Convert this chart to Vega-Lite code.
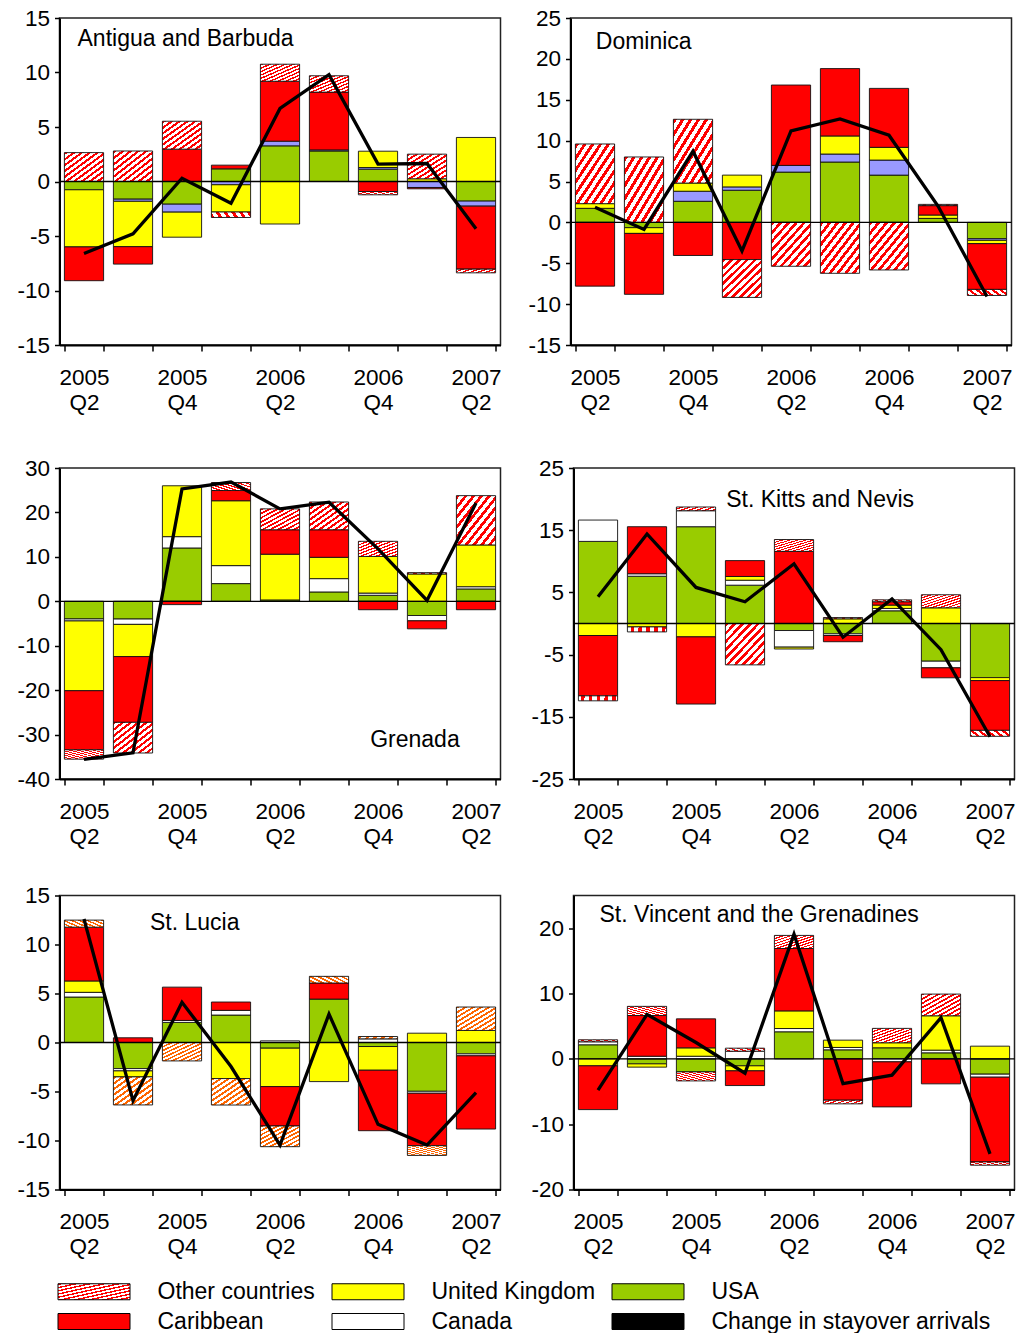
{
 "$schema": "https://vega.github.io/schema/vega-lite/v6.json",
 "padding": {"left": 15.5, "top": 6, "right": 4, "bottom": 0},
 "background": "white",
 "data": {"values": [
  {"country":"Antigua and Barbuda","quarter":"2005 Q2","USA":-0.76,"Canada":0,"United Kingdom":-5.24,"Caribbean":-3.1,"Other countries":2.65,"Change in stayover arrivals":-6.6},
  {"country":"Antigua and Barbuda","quarter":"2005 Q3","USA":-1.62,"Canada":-0.2,"United Kingdom":-4.16,"Caribbean":-1.6,"Other countries":2.8,"Change in stayover arrivals":-4.8},
  {"country":"Antigua and Barbuda","quarter":"2005 Q4","USA":-2.08,"Canada":-0.73,"United Kingdom":-2.3,"Caribbean":2.97,"Other countries":2.56,"Change in stayover arrivals":0.3},
  {"country":"Antigua and Barbuda","quarter":"2006 Q1","USA":1.16,"Canada":-0.3,"United Kingdom":-2.5,"Caribbean":0.34,"Other countries":-0.5,"Change in stayover arrivals":-2.0},
  {"country":"Antigua and Barbuda","quarter":"2006 Q2","USA":3.27,"Canada":0.43,"United Kingdom":-3.9,"Caribbean":5.5,"Other countries":1.56,"Change in stayover arrivals":6.7},
  {"country":"Antigua and Barbuda","quarter":"2006 Q3","USA":2.8,"Canada":0.1,"United Kingdom":0,"Caribbean":5.3,"Other countries":1.5,"Change in stayover arrivals":9.8},
  {"country":"Antigua and Barbuda","quarter":"2006 Q4","USA":1.13,"Canada":0.15,"United Kingdom":1.5,"Caribbean":-0.92,"Other countries":-0.3,"Change in stayover arrivals":1.6},
  {"country":"Antigua and Barbuda","quarter":"2007 Q1","USA":0,"Canada":-0.55,"United Kingdom":0.25,"Caribbean":-0.12,"Other countries":2.26,"Change in stayover arrivals":1.65},
  {"country":"Antigua and Barbuda","quarter":"2007 Q2","USA":-1.8,"Canada":-0.46,"United Kingdom":4.04,"Caribbean":-5.78,"Other countries":-0.34,"Change in stayover arrivals":-4.34},
  {"country":"Dominica","quarter":"2005 Q2","USA":1.72,"Canada":0,"United Kingdom":0.57,"Caribbean":-7.8,"Other countries":7.3,"Change in stayover arrivals":1.85},
  {"country":"Dominica","quarter":"2005 Q3","USA":-0.65,"Canada":0,"United Kingdom":-0.7,"Caribbean":-7.45,"Other countries":8.0,"Change in stayover arrivals":-0.86},
  {"country":"Dominica","quarter":"2005 Q4","USA":2.58,"Canada":1.23,"United Kingdom":1.0,"Caribbean":-4.05,"Other countries":7.8,"Change in stayover arrivals":8.7},
  {"country":"Dominica","quarter":"2006 Q1","USA":3.93,"Canada":0.41,"United Kingdom":1.44,"Caribbean":-4.55,"Other countries":-4.63,"Change in stayover arrivals":-3.5},
  {"country":"Dominica","quarter":"2006 Q2","USA":6.15,"Canada":0.82,"United Kingdom":0,"Caribbean":9.83,"Other countries":-5.37,"Change in stayover arrivals":11.2},
  {"country":"Dominica","quarter":"2006 Q3","USA":7.38,"Canada":0.98,"United Kingdom":2.21,"Caribbean":8.24,"Other countries":-6.23,"Change in stayover arrivals":12.66},
  {"country":"Dominica","quarter":"2006 Q4","USA":5.78,"Canada":1.84,"United Kingdom":1.56,"Caribbean":7.21,"Other countries":-5.82,"Change in stayover arrivals":10.66},
  {"country":"Dominica","quarter":"2007 Q1","USA":0.49,"Canada":0,"United Kingdom":0.41,"Caribbean":1.15,"Other countries":0.15,"Change in stayover arrivals":2.0},
  {"country":"Dominica","quarter":"2007 Q2","USA":-2.0,"Canada":-0.2,"United Kingdom":-0.4,"Caribbean":-5.6,"Other countries":-0.74,"Change in stayover arrivals":-9.06},
  {"country":"Grenada","quarter":"2005 Q2","USA":-3.98,"Canada":-0.45,"United Kingdom":-15.7,"Caribbean":-13.3,"Other countries":-2.1,"Change in stayover arrivals":-35.6},
  {"country":"Grenada","quarter":"2005 Q3","USA":-4.0,"Canada":-1.2,"United Kingdom":-7.25,"Caribbean":-14.8,"Other countries":-6.9,"Change in stayover arrivals":-34.1},
  {"country":"Grenada","quarter":"2005 Q4","USA":12.0,"Canada":2.55,"United Kingdom":11.45,"Caribbean":-0.75,"Other countries":0,"Change in stayover arrivals":25.3},
  {"country":"Grenada","quarter":"2006 Q1","USA":3.98,"Canada":4.05,"United Kingdom":14.6,"Caribbean":2.3,"Other countries":1.8,"Change in stayover arrivals":26.85},
  {"country":"Grenada","quarter":"2006 Q2","USA":0.3,"Canada":0,"United Kingdom":10.3,"Caribbean":5.5,"Other countries":4.7,"Change in stayover arrivals":20.8},
  {"country":"Grenada","quarter":"2006 Q3","USA":2.1,"Canada":3.0,"United Kingdom":4.8,"Caribbean":6.2,"Other countries":6.25,"Change in stayover arrivals":22.3},
  {"country":"Grenada","quarter":"2006 Q4","USA":1.35,"Canada":0.5,"United Kingdom":8.25,"Caribbean":-1.9,"Other countries":3.4,"Change in stayover arrivals":11.8},
  {"country":"Grenada","quarter":"2007 Q1","USA":-3.2,"Canada":-1.2,"United Kingdom":6.15,"Caribbean":-1.8,"Other countries":0.3,"Change in stayover arrivals":0.2},
  {"country":"Grenada","quarter":"2007 Q2","USA":2.78,"Canada":0.5,"United Kingdom":9.4,"Caribbean":-1.9,"Other countries":11.1,"Change in stayover arrivals":22.1},
  {"country":"St. Kitts and Nevis","quarter":"2005 Q2","USA":13.2,"Canada":3.43,"United Kingdom":-1.93,"Caribbean":-9.7,"Other countries":-0.8,"Change in stayover arrivals":4.3},
  {"country":"St. Kitts and Nevis","quarter":"2005 Q3","USA":7.6,"Canada":0.4,"United Kingdom":-0.55,"Caribbean":7.56,"Other countries":-0.8,"Change in stayover arrivals":14.4},
  {"country":"St. Kitts and Nevis","quarter":"2005 Q4","USA":15.56,"Canada":2.57,"United Kingdom":-2.15,"Caribbean":-10.8,"Other countries":0.6,"Change in stayover arrivals":5.8},
  {"country":"St. Kitts and Nevis","quarter":"2006 Q1","USA":6.16,"Canada":0.8,"United Kingdom":0.6,"Caribbean":2.55,"Other countries":-6.65,"Change in stayover arrivals":3.5},
  {"country":"St. Kitts and Nevis","quarter":"2006 Q2","USA":-1.13,"Canada":-2.67,"United Kingdom":-0.3,"Caribbean":11.6,"Other countries":1.9,"Change in stayover arrivals":9.6},
  {"country":"St. Kitts and Nevis","quarter":"2006 Q3","USA":-1.66,"Canada":-0.27,"United Kingdom":0.75,"Caribbean":-1.0,"Other countries":0.2,"Change in stayover arrivals":-2.2},
  {"country":"St. Kitts and Nevis","quarter":"2006 Q4","USA":2.04,"Canada":0.38,"United Kingdom":0.54,"Caribbean":0.54,"Other countries":0.3,"Change in stayover arrivals":3.95},
  {"country":"St. Kitts and Nevis","quarter":"2007 Q1","USA":-6.06,"Canada":-1.07,"United Kingdom":2.52,"Caribbean":-1.6,"Other countries":2.1,"Change in stayover arrivals":-4.2},
  {"country":"St. Kitts and Nevis","quarter":"2007 Q2","USA":-8.7,"Canada":0,"United Kingdom":-0.48,"Caribbean":-8.0,"Other countries":-0.96,"Change in stayover arrivals":-18.2},
  {"country":"St. Lucia","quarter":"2005 Q2","USA":4.64,"Canada":0.48,"United Kingdom":1.16,"Caribbean":5.49,"Other countries":0.72,"Change in stayover arrivals":12.6},
  {"country":"St. Lucia","quarter":"2005 Q3","USA":-2.66,"Canada":-0.24,"United Kingdom":-0.61,"Caribbean":0.48,"Other countries":-2.86,"Change in stayover arrivals":-5.93},
  {"country":"St. Lucia","quarter":"2005 Q4","USA":2.05,"Canada":0.2,"United Kingdom":0,"Caribbean":3.4,"Other countries":-1.88,"Change in stayover arrivals":4.1},
  {"country":"St. Lucia","quarter":"2006 Q1","USA":2.8,"Canada":0.48,"United Kingdom":-3.68,"Caribbean":0.85,"Other countries":-2.7,"Change in stayover arrivals":-2.45},
  {"country":"St. Lucia","quarter":"2006 Q2","USA":-0.58,"Canada":0.17,"United Kingdom":-3.92,"Caribbean":-4.02,"Other countries":-2.11,"Change in stayover arrivals":-10.47},
  {"country":"St. Lucia","quarter":"2006 Q3","USA":4.43,"Canada":0,"United Kingdom":-3.99,"Caribbean":1.64,"Other countries":0.68,"Change in stayover arrivals":2.9},
  {"country":"St. Lucia","quarter":"2006 Q4","USA":-0.41,"Canada":0.37,"United Kingdom":-2.42,"Caribbean":-6.17,"Other countries":0.24,"Change in stayover arrivals":-8.35},
  {"country":"St. Lucia","quarter":"2007 Q1","USA":-4.98,"Canada":-0.2,"United Kingdom":0.95,"Caribbean":-5.35,"Other countries":-0.99,"Change in stayover arrivals":-10.47},
  {"country":"St. Lucia","quarter":"2007 Q2","USA":-1.16,"Canada":-0.2,"United Kingdom":1.23,"Caribbean":-7.47,"Other countries":2.39,"Change in stayover arrivals":-5.11},
  {"country":"St. Vincent and the Grenadines","quarter":"2005 Q2","USA":2.15,"Canada":0.46,"United Kingdom":-1.07,"Caribbean":-6.7,"Other countries":0.3,"Change in stayover arrivals":-4.78},
  {"country":"St. Vincent and the Grenadines","quarter":"2005 Q3","USA":-0.77,"Canada":0.4,"United Kingdom":-0.5,"Caribbean":6.23,"Other countries":1.4,"Change in stayover arrivals":6.8},
  {"country":"St. Vincent and the Grenadines","quarter":"2005 Q4","USA":-2.0,"Canada":0.4,"United Kingdom":1.28,"Caribbean":4.44,"Other countries":-1.38,"Change in stayover arrivals":2.5},
  {"country":"St. Vincent and the Grenadines","quarter":"2006 Q1","USA":-1.07,"Canada":1.17,"United Kingdom":-0.77,"Caribbean":-2.25,"Other countries":0.46,"Change in stayover arrivals":-2.2},
  {"country":"St. Vincent and the Grenadines","quarter":"2006 Q2","USA":4.14,"Canada":0.5,"United Kingdom":2.7,"Caribbean":9.55,"Other countries":2.0,"Change in stayover arrivals":19.08},
  {"country":"St. Vincent and the Grenadines","quarter":"2006 Q3","USA":1.38,"Canada":0.36,"United Kingdom":1.12,"Caribbean":-6.33,"Other countries":-0.56,"Change in stayover arrivals":-3.8},
  {"country":"St. Vincent and the Grenadines","quarter":"2006 Q4","USA":1.69,"Canada":-0.46,"United Kingdom":0.77,"Caribbean":-6.9,"Other countries":2.2,"Change in stayover arrivals":-2.5},
  {"country":"St. Vincent and the Grenadines","quarter":"2007 Q1","USA":0.92,"Canada":0.41,"United Kingdom":5.26,"Caribbean":-3.83,"Other countries":3.32,"Change in stayover arrivals":6.3},
  {"country":"St. Vincent and the Grenadines","quarter":"2007 Q2","USA":-2.35,"Canada":-0.46,"United Kingdom":1.94,"Caribbean":-12.97,"Other countries":-0.5,"Change in stayover arrivals":-14.55}
 ]},
 "transform": [
  {"fold": ["USA","Canada","United Kingdom","Caribbean","Other countries","Change in stayover arrivals"], "as": ["series","value"]},
  {"calculate": "indexof(['USA','Canada','United Kingdom','Caribbean','Other countries'], datum.series)", "as": "ord"}
 ],
 "spacing": 41,
 "vconcat": [
  {"spacing": 24, "hconcat": [
   {"width": 441, "height": 327,
    "transform": [{"filter": "datum.country === 'Antigua and Barbuda'"}],
    "layer": [
     {"transform": [{"filter": "datum.series !== 'Change in stayover arrivals' && datum.value !== 0"}],
      "mark": {"type": "bar", "stroke": "#111", "strokeWidth": 0.9},
      "encoding": {
       "x": {"field": "quarter", "type": "ordinal", "title": null, "scale": {"type": "band", "domain": ["2005 Q2","2005 Q3","2005 Q4","2006 Q1","2006 Q2","2006 Q3","2006 Q4","2007 Q1","2007 Q2"], "paddingInner": 0.2, "paddingOuter": 0.1},
        "axis": {"labelExpr": "indexof(['2005 Q2','2005 Q4','2006 Q2','2006 Q4','2007 Q2'], datum.value) >= 0 ? split(datum.value, ' ') : ''", "labelAngle": 0, "labelPadding": 15, "labelLineHeight": 25, "tickBand": "extent", "tickSize": 6, "labelOverlap": false, "labelBound": false}},
       "y": {"field": "value", "type": "quantitative", "stack": "zero", "title": null, "scale": {"domain": [-15, 15], "nice": false, "zero": false},
        "axis": {"values": [-15,-10,-5,0,5,10,15], "tickSize": 5, "labelPadding": 5, "labelOverlap": false, "labelExpr": "'' + datum.value"}},
       "color": {"field": "series", "type": "nominal",
        "condition": [{"test": "datum.series === 'Canada'", "value": "#9999FF"}],
        "scale": {"domain": ["USA","Canada","United Kingdom","Caribbean","Other countries","Change in stayover arrivals"], "range": ["#99CC00","#FFFFFF","#FFFF00","#FF0000",{"expr": "{gradient:'linear',x1:0,y1:0,x2:1,y2:1,stops:[{offset:0,color:'#f00'},{offset:0.045,color:'#f00'},{offset:0.045,color:'#fff'},{offset:0.1,color:'#fff'},{offset:0.1,color:'#f00'},{offset:0.145,color:'#f00'},{offset:0.145,color:'#fff'},{offset:0.2,color:'#fff'},{offset:0.2,color:'#f00'},{offset:0.245,color:'#f00'},{offset:0.245,color:'#fff'},{offset:0.3,color:'#fff'},{offset:0.3,color:'#f00'},{offset:0.345,color:'#f00'},{offset:0.345,color:'#fff'},{offset:0.4,color:'#fff'},{offset:0.4,color:'#f00'},{offset:0.445,color:'#f00'},{offset:0.445,color:'#fff'},{offset:0.5,color:'#fff'},{offset:0.5,color:'#f00'},{offset:0.545,color:'#f00'},{offset:0.545,color:'#fff'},{offset:0.6,color:'#fff'},{offset:0.6,color:'#f00'},{offset:0.645,color:'#f00'},{offset:0.645,color:'#fff'},{offset:0.7,color:'#fff'},{offset:0.7,color:'#f00'},{offset:0.745,color:'#f00'},{offset:0.745,color:'#fff'},{offset:0.8,color:'#fff'},{offset:0.8,color:'#f00'},{offset:0.845,color:'#f00'},{offset:0.845,color:'#fff'},{offset:0.9,color:'#fff'},{offset:0.9,color:'#f00'},{offset:0.945,color:'#f00'},{offset:0.945,color:'#fff'},{offset:1,color:'#fff'}]}"},"#000000"]},
        "legend": {"values": ["Other countries","Caribbean","United Kingdom","Canada","USA","Change in stayover arrivals"],
         "orient": "none", "legendX": 23, "legendY": 1262, "columns": 3, "title": null,
         "symbolType": "M-4.5,-1H4.5V1H-4.5Z", "symbolSize": 256, "symbolStrokeColor": "black", "symbolStrokeWidth": 1, "symbolOpacity": 1,
         "labelFont": "Liberation Sans", "labelFontSize": 23, "labelColor": "black", "labelOffset": 52, "labelLimit": 400,
         "rowPadding": 6, "columnPadding": 14, "padding": 0}
       },
       "order": {"field": "ord", "type": "quantitative"}
      }},
     {"transform": [{"filter": "datum.series === 'USA' && datum.quarter === '2005 Q2'"}],
      "mark": {"type": "rule", "color": "black", "strokeWidth": 1.3},
      "encoding": {"y": {"datum": 0, "type": "quantitative", "scale": {"domain": [-15, 15], "nice": false, "zero": false}}}},
     {"transform": [{"filter": "datum.series === 'Change in stayover arrivals'"}],
      "mark": {"type": "line", "color": "black", "strokeWidth": 3.3},
      "encoding": {
       "x": {"field": "quarter", "type": "ordinal", "title": null, "scale": {"type": "band", "domain": ["2005 Q2","2005 Q3","2005 Q4","2006 Q1","2006 Q2","2006 Q3","2006 Q4","2007 Q1","2007 Q2"], "paddingInner": 0.2, "paddingOuter": 0.1}},
       "y": {"field": "value", "type": "quantitative", "title": null, "scale": {"domain": [-15, 15], "nice": false, "zero": false}}}},
     {"transform": [{"filter": "datum.series === 'USA' && datum.quarter === '2005 Q2'"}],
      "mark": {"type": "text", "align": "left", "baseline": "alphabetic", "font": "Liberation Sans", "fontSize": 23, "color": "black", "dx": -6.5},
      "encoding": {
       "x": {"datum": "2005 Q2", "type": "ordinal", "scale": {"type": "band", "domain": ["2005 Q2","2005 Q3","2005 Q4","2006 Q1","2006 Q2","2006 Q3","2006 Q4","2007 Q1","2007 Q2"], "paddingInner": 0.2, "paddingOuter": 0.1}},
       "y": {"datum": 12.46, "type": "quantitative", "scale": {"domain": [-15, 15], "nice": false, "zero": false}},
       "text": {"field": "country", "type": "nominal"}}}
    ]},
   {"width": 441, "height": 327,
    "transform": [{"filter": "datum.country === 'Dominica'"}],
    "layer": [
     {"transform": [{"filter": "datum.series !== 'Change in stayover arrivals' && datum.value !== 0"}],
      "mark": {"type": "bar", "stroke": "#111", "strokeWidth": 0.9},
      "encoding": {
       "x": {"field": "quarter", "type": "ordinal", "title": null, "scale": {"type": "band", "domain": ["2005 Q2","2005 Q3","2005 Q4","2006 Q1","2006 Q2","2006 Q3","2006 Q4","2007 Q1","2007 Q2"], "paddingInner": 0.2, "paddingOuter": 0.1},
        "axis": {"labelExpr": "indexof(['2005 Q2','2005 Q4','2006 Q2','2006 Q4','2007 Q2'], datum.value) >= 0 ? split(datum.value, ' ') : ''", "labelAngle": 0, "labelPadding": 15, "labelLineHeight": 25, "tickBand": "extent", "tickSize": 6, "labelOverlap": false, "labelBound": false}},
       "y": {"field": "value", "type": "quantitative", "stack": "zero", "title": null, "scale": {"domain": [-15, 25], "nice": false, "zero": false},
        "axis": {"values": [-15,-10,-5,0,5,10,15,20,25], "tickSize": 5, "labelPadding": 5, "labelOverlap": false, "labelExpr": "'' + datum.value"}},
       "color": {"field": "series", "type": "nominal",
        "condition": [{"test": "datum.series === 'Canada'", "value": "#9999FF"}],
        "scale": {"domain": ["USA","Canada","United Kingdom","Caribbean","Other countries","Change in stayover arrivals"], "range": ["#99CC00","#FFFFFF","#FFFF00","#FF0000",{"expr": "{gradient:'linear',x1:0,y1:0,x2:1,y2:1,stops:[{offset:0,color:'#f00'},{offset:0.045,color:'#f00'},{offset:0.045,color:'#fff'},{offset:0.1,color:'#fff'},{offset:0.1,color:'#f00'},{offset:0.145,color:'#f00'},{offset:0.145,color:'#fff'},{offset:0.2,color:'#fff'},{offset:0.2,color:'#f00'},{offset:0.245,color:'#f00'},{offset:0.245,color:'#fff'},{offset:0.3,color:'#fff'},{offset:0.3,color:'#f00'},{offset:0.345,color:'#f00'},{offset:0.345,color:'#fff'},{offset:0.4,color:'#fff'},{offset:0.4,color:'#f00'},{offset:0.445,color:'#f00'},{offset:0.445,color:'#fff'},{offset:0.5,color:'#fff'},{offset:0.5,color:'#f00'},{offset:0.545,color:'#f00'},{offset:0.545,color:'#fff'},{offset:0.6,color:'#fff'},{offset:0.6,color:'#f00'},{offset:0.645,color:'#f00'},{offset:0.645,color:'#fff'},{offset:0.7,color:'#fff'},{offset:0.7,color:'#f00'},{offset:0.745,color:'#f00'},{offset:0.745,color:'#fff'},{offset:0.8,color:'#fff'},{offset:0.8,color:'#f00'},{offset:0.845,color:'#f00'},{offset:0.845,color:'#fff'},{offset:0.9,color:'#fff'},{offset:0.9,color:'#f00'},{offset:0.945,color:'#f00'},{offset:0.945,color:'#fff'},{offset:1,color:'#fff'}]}"},"#000000"]},
        "legend": null},
       "order": {"field": "ord", "type": "quantitative"}
      }},
     {"transform": [{"filter": "datum.series === 'USA' && datum.quarter === '2005 Q2'"}],
      "mark": {"type": "rule", "color": "black", "strokeWidth": 1.3},
      "encoding": {"y": {"datum": 0, "type": "quantitative", "scale": {"domain": [-15, 25], "nice": false, "zero": false}}}},
     {"transform": [{"filter": "datum.series === 'Change in stayover arrivals'"}],
      "mark": {"type": "line", "color": "black", "strokeWidth": 3.3},
      "encoding": {
       "x": {"field": "quarter", "type": "ordinal", "title": null, "scale": {"type": "band", "domain": ["2005 Q2","2005 Q3","2005 Q4","2006 Q1","2006 Q2","2006 Q3","2006 Q4","2007 Q1","2007 Q2"], "paddingInner": 0.2, "paddingOuter": 0.1}},
       "y": {"field": "value", "type": "quantitative", "title": null, "scale": {"domain": [-15, 25], "nice": false, "zero": false}}}},
     {"transform": [{"filter": "datum.series === 'USA' && datum.quarter === '2005 Q2'"}],
      "mark": {"type": "text", "align": "left", "baseline": "alphabetic", "font": "Liberation Sans", "fontSize": 23, "color": "black", "dx": 0.8},
      "encoding": {
       "x": {"datum": "2005 Q2", "type": "ordinal", "scale": {"type": "band", "domain": ["2005 Q2","2005 Q3","2005 Q4","2006 Q1","2006 Q2","2006 Q3","2006 Q4","2007 Q1","2007 Q2"], "paddingInner": 0.2, "paddingOuter": 0.1}},
       "y": {"datum": 21.2, "type": "quantitative", "scale": {"domain": [-15, 25], "nice": false, "zero": false}},
       "text": {"field": "country", "type": "nominal"}}}
    ]}
  ]},
  {"spacing": 34.5, "vconcat": [
   {"spacing": 27, "hconcat": [
    {"width": 441, "height": 311,
     "transform": [{"filter": "datum.country === 'Grenada'"}],
     "layer": [
      {"transform": [{"filter": "datum.series !== 'Change in stayover arrivals' && datum.value !== 0"}],
       "mark": {"type": "bar", "stroke": "#111", "strokeWidth": 0.9},
       "encoding": {
        "x": {"field": "quarter", "type": "ordinal", "title": null, "scale": {"type": "band", "domain": ["2005 Q2","2005 Q3","2005 Q4","2006 Q1","2006 Q2","2006 Q3","2006 Q4","2007 Q1","2007 Q2"], "paddingInner": 0.2, "paddingOuter": 0.1},
         "axis": {"labelExpr": "indexof(['2005 Q2','2005 Q4','2006 Q2','2006 Q4','2007 Q2'], datum.value) >= 0 ? split(datum.value, ' ') : ''", "labelAngle": 0, "labelPadding": 15, "labelLineHeight": 25, "tickBand": "extent", "tickSize": 6, "labelOverlap": false, "labelBound": false}},
        "y": {"field": "value", "type": "quantitative", "stack": "zero", "title": null, "scale": {"domain": [-40, 30], "nice": false, "zero": false},
         "axis": {"values": [-40,-30,-20,-10,0,10,20,30], "tickSize": 5, "labelPadding": 5, "labelOverlap": false, "labelExpr": "'' + datum.value"}},
        "color": {"field": "series", "type": "nominal",
         "scale": {"domain": ["USA","Canada","United Kingdom","Caribbean","Other countries","Change in stayover arrivals"], "range": ["#99CC00","#FFFFFF","#FFFF00","#FF0000",{"expr": "{gradient:'linear',x1:0,y1:0,x2:1,y2:1,stops:[{offset:0,color:'#f00'},{offset:0.045,color:'#f00'},{offset:0.045,color:'#fff'},{offset:0.1,color:'#fff'},{offset:0.1,color:'#f00'},{offset:0.145,color:'#f00'},{offset:0.145,color:'#fff'},{offset:0.2,color:'#fff'},{offset:0.2,color:'#f00'},{offset:0.245,color:'#f00'},{offset:0.245,color:'#fff'},{offset:0.3,color:'#fff'},{offset:0.3,color:'#f00'},{offset:0.345,color:'#f00'},{offset:0.345,color:'#fff'},{offset:0.4,color:'#fff'},{offset:0.4,color:'#f00'},{offset:0.445,color:'#f00'},{offset:0.445,color:'#fff'},{offset:0.5,color:'#fff'},{offset:0.5,color:'#f00'},{offset:0.545,color:'#f00'},{offset:0.545,color:'#fff'},{offset:0.6,color:'#fff'},{offset:0.6,color:'#f00'},{offset:0.645,color:'#f00'},{offset:0.645,color:'#fff'},{offset:0.7,color:'#fff'},{offset:0.7,color:'#f00'},{offset:0.745,color:'#f00'},{offset:0.745,color:'#fff'},{offset:0.8,color:'#fff'},{offset:0.8,color:'#f00'},{offset:0.845,color:'#f00'},{offset:0.845,color:'#fff'},{offset:0.9,color:'#fff'},{offset:0.9,color:'#f00'},{offset:0.945,color:'#f00'},{offset:0.945,color:'#fff'},{offset:1,color:'#fff'}]}"},"#000000"]},
         "legend": null},
        "order": {"field": "ord", "type": "quantitative"}
       }},
      {"transform": [{"filter": "datum.series === 'USA' && datum.quarter === '2005 Q2'"}],
       "mark": {"type": "rule", "color": "black", "strokeWidth": 1.3},
       "encoding": {"y": {"datum": 0, "type": "quantitative", "scale": {"domain": [-40, 30], "nice": false, "zero": false}}}},
      {"transform": [{"filter": "datum.series === 'Change in stayover arrivals'"}],
       "mark": {"type": "line", "color": "black", "strokeWidth": 3.3},
       "encoding": {
        "x": {"field": "quarter", "type": "ordinal", "title": null, "scale": {"type": "band", "domain": ["2005 Q2","2005 Q3","2005 Q4","2006 Q1","2006 Q2","2006 Q3","2006 Q4","2007 Q1","2007 Q2"], "paddingInner": 0.2, "paddingOuter": 0.1}},
        "y": {"field": "value", "type": "quantitative", "title": null, "scale": {"domain": [-40, 30], "nice": false, "zero": false}}}},
      {"transform": [{"filter": "datum.series === 'USA' && datum.quarter === '2005 Q2'"}],
       "mark": {"type": "text", "align": "left", "baseline": "alphabetic", "font": "Liberation Sans", "fontSize": 23, "color": "black", "dx": -7.8},
       "encoding": {
        "x": {"datum": "2006 Q4", "type": "ordinal", "scale": {"type": "band", "domain": ["2005 Q2","2005 Q3","2005 Q4","2006 Q1","2006 Q2","2006 Q3","2006 Q4","2007 Q1","2007 Q2"], "paddingInner": 0.2, "paddingOuter": 0.1}},
        "y": {"datum": -32.9, "type": "quantitative", "scale": {"domain": [-40, 30], "nice": false, "zero": false}},
        "text": {"field": "country", "type": "nominal"}}}
     ]},
    {"width": 441, "height": 311,
     "transform": [{"filter": "datum.country === 'St. Kitts and Nevis'"}],
     "layer": [
      {"transform": [{"filter": "datum.series !== 'Change in stayover arrivals' && datum.value !== 0"}],
       "mark": {"type": "bar", "stroke": "#111", "strokeWidth": 0.9},
       "encoding": {
        "x": {"field": "quarter", "type": "ordinal", "title": null, "scale": {"type": "band", "domain": ["2005 Q2","2005 Q3","2005 Q4","2006 Q1","2006 Q2","2006 Q3","2006 Q4","2007 Q1","2007 Q2"], "paddingInner": 0.2, "paddingOuter": 0.1},
         "axis": {"labelExpr": "indexof(['2005 Q2','2005 Q4','2006 Q2','2006 Q4','2007 Q2'], datum.value) >= 0 ? split(datum.value, ' ') : ''", "labelAngle": 0, "labelPadding": 15, "labelLineHeight": 25, "tickBand": "extent", "tickSize": 6, "labelOverlap": false, "labelBound": false}},
        "y": {"field": "value", "type": "quantitative", "stack": "zero", "title": null, "scale": {"domain": [-25, 25], "nice": false, "zero": false},
         "axis": {"values": [-25,-20,-15,-10,-5,0,5,10,15,20,25], "tickSize": 5, "labelPadding": 5, "labelOverlap": false, "labelExpr": "'' + datum.value"}},
        "color": {"field": "series", "type": "nominal",
         "scale": {"domain": ["USA","Canada","United Kingdom","Caribbean","Other countries","Change in stayover arrivals"], "range": ["#99CC00","#FFFFFF","#FFFF00","#FF0000",{"expr": "{gradient:'linear',x1:0,y1:0,x2:1,y2:1,stops:[{offset:0,color:'#f00'},{offset:0.045,color:'#f00'},{offset:0.045,color:'#fff'},{offset:0.1,color:'#fff'},{offset:0.1,color:'#f00'},{offset:0.145,color:'#f00'},{offset:0.145,color:'#fff'},{offset:0.2,color:'#fff'},{offset:0.2,color:'#f00'},{offset:0.245,color:'#f00'},{offset:0.245,color:'#fff'},{offset:0.3,color:'#fff'},{offset:0.3,color:'#f00'},{offset:0.345,color:'#f00'},{offset:0.345,color:'#fff'},{offset:0.4,color:'#fff'},{offset:0.4,color:'#f00'},{offset:0.445,color:'#f00'},{offset:0.445,color:'#fff'},{offset:0.5,color:'#fff'},{offset:0.5,color:'#f00'},{offset:0.545,color:'#f00'},{offset:0.545,color:'#fff'},{offset:0.6,color:'#fff'},{offset:0.6,color:'#f00'},{offset:0.645,color:'#f00'},{offset:0.645,color:'#fff'},{offset:0.7,color:'#fff'},{offset:0.7,color:'#f00'},{offset:0.745,color:'#f00'},{offset:0.745,color:'#fff'},{offset:0.8,color:'#fff'},{offset:0.8,color:'#f00'},{offset:0.845,color:'#f00'},{offset:0.845,color:'#fff'},{offset:0.9,color:'#fff'},{offset:0.9,color:'#f00'},{offset:0.945,color:'#f00'},{offset:0.945,color:'#fff'},{offset:1,color:'#fff'}]}"},"#000000"]},
         "legend": null},
        "order": {"field": "ord", "type": "quantitative"}
       }},
      {"transform": [{"filter": "datum.series === 'USA' && datum.quarter === '2005 Q2'"}],
       "mark": {"type": "rule", "color": "black", "strokeWidth": 1.3},
       "encoding": {"y": {"datum": 0, "type": "quantitative", "scale": {"domain": [-25, 25], "nice": false, "zero": false}}}},
      {"transform": [{"filter": "datum.series === 'Change in stayover arrivals'"}],
       "mark": {"type": "line", "color": "black", "strokeWidth": 3.3},
       "encoding": {
        "x": {"field": "quarter", "type": "ordinal", "title": null, "scale": {"type": "band", "domain": ["2005 Q2","2005 Q3","2005 Q4","2006 Q1","2006 Q2","2006 Q3","2006 Q4","2007 Q1","2007 Q2"], "paddingInner": 0.2, "paddingOuter": 0.1}},
        "y": {"field": "value", "type": "quantitative", "title": null, "scale": {"domain": [-25, 25], "nice": false, "zero": false}}}},
      {"transform": [{"filter": "datum.series === 'USA' && datum.quarter === '2005 Q2'"}],
       "mark": {"type": "text", "align": "left", "baseline": "alphabetic", "font": "Liberation Sans", "fontSize": 23, "color": "black", "dx": -18.8},
       "encoding": {
        "x": {"datum": "2006 Q1", "type": "ordinal", "scale": {"type": "band", "domain": ["2005 Q2","2005 Q3","2005 Q4","2006 Q1","2006 Q2","2006 Q3","2006 Q4","2007 Q1","2007 Q2"], "paddingInner": 0.2, "paddingOuter": 0.1}},
        "y": {"datum": 18.8, "type": "quantitative", "scale": {"domain": [-25, 25], "nice": false, "zero": false}},
        "text": {"field": "country", "type": "nominal"}}}
     ]}
   ]},
   {"spacing": 27, "hconcat": [
    {"width": 441, "height": 294,
     "transform": [{"filter": "datum.country === 'St. Lucia'"}],
     "layer": [
      {"transform": [{"filter": "datum.series !== 'Change in stayover arrivals' && datum.value !== 0"}],
       "mark": {"type": "bar", "stroke": "#111", "strokeWidth": 0.9},
       "encoding": {
        "x": {"field": "quarter", "type": "ordinal", "title": null, "scale": {"type": "band", "domain": ["2005 Q2","2005 Q3","2005 Q4","2006 Q1","2006 Q2","2006 Q3","2006 Q4","2007 Q1","2007 Q2"], "paddingInner": 0.2, "paddingOuter": 0.1},
         "axis": {"labelExpr": "indexof(['2005 Q2','2005 Q4','2006 Q2','2006 Q4','2007 Q2'], datum.value) >= 0 ? split(datum.value, ' ') : ''", "labelAngle": 0, "labelPadding": 15, "labelLineHeight": 25, "tickBand": "extent", "tickSize": 6, "labelOverlap": false, "labelBound": false}},
        "y": {"field": "value", "type": "quantitative", "stack": "zero", "title": null, "scale": {"domain": [-15, 15], "nice": false, "zero": false},
         "axis": {"values": [-15,-10,-5,0,5,10,15], "tickSize": 5, "labelPadding": 5, "labelOverlap": false, "labelExpr": "'' + datum.value"}},
        "color": {"field": "series", "type": "nominal",
         "condition": [{"test": "datum.series === 'Other countries'", "value": {"gradient":"linear","x1":0,"y1":0,"x2":1,"y2":1,"stops":[{"offset":0,"color":"#f60"},{"offset":0.045,"color":"#f60"},{"offset":0.045,"color":"#fff"},{"offset":0.1,"color":"#fff"},{"offset":0.1,"color":"#f60"},{"offset":0.145,"color":"#f60"},{"offset":0.145,"color":"#fff"},{"offset":0.2,"color":"#fff"},{"offset":0.2,"color":"#f60"},{"offset":0.245,"color":"#f60"},{"offset":0.245,"color":"#fff"},{"offset":0.3,"color":"#fff"},{"offset":0.3,"color":"#f60"},{"offset":0.345,"color":"#f60"},{"offset":0.345,"color":"#fff"},{"offset":0.4,"color":"#fff"},{"offset":0.4,"color":"#f60"},{"offset":0.445,"color":"#f60"},{"offset":0.445,"color":"#fff"},{"offset":0.5,"color":"#fff"},{"offset":0.5,"color":"#f60"},{"offset":0.545,"color":"#f60"},{"offset":0.545,"color":"#fff"},{"offset":0.6,"color":"#fff"},{"offset":0.6,"color":"#f60"},{"offset":0.645,"color":"#f60"},{"offset":0.645,"color":"#fff"},{"offset":0.7,"color":"#fff"},{"offset":0.7,"color":"#f60"},{"offset":0.745,"color":"#f60"},{"offset":0.745,"color":"#fff"},{"offset":0.8,"color":"#fff"},{"offset":0.8,"color":"#f60"},{"offset":0.845,"color":"#f60"},{"offset":0.845,"color":"#fff"},{"offset":0.9,"color":"#fff"},{"offset":0.9,"color":"#f60"},{"offset":0.945,"color":"#f60"},{"offset":0.945,"color":"#fff"},{"offset":1,"color":"#fff"}]}}],
         "scale": {"domain": ["USA","Canada","United Kingdom","Caribbean","Other countries","Change in stayover arrivals"], "range": ["#99CC00","#FFFFFF","#FFFF00","#FF0000",{"expr": "{gradient:'linear',x1:0,y1:0,x2:1,y2:1,stops:[{offset:0,color:'#f00'},{offset:0.045,color:'#f00'},{offset:0.045,color:'#fff'},{offset:0.1,color:'#fff'},{offset:0.1,color:'#f00'},{offset:0.145,color:'#f00'},{offset:0.145,color:'#fff'},{offset:0.2,color:'#fff'},{offset:0.2,color:'#f00'},{offset:0.245,color:'#f00'},{offset:0.245,color:'#fff'},{offset:0.3,color:'#fff'},{offset:0.3,color:'#f00'},{offset:0.345,color:'#f00'},{offset:0.345,color:'#fff'},{offset:0.4,color:'#fff'},{offset:0.4,color:'#f00'},{offset:0.445,color:'#f00'},{offset:0.445,color:'#fff'},{offset:0.5,color:'#fff'},{offset:0.5,color:'#f00'},{offset:0.545,color:'#f00'},{offset:0.545,color:'#fff'},{offset:0.6,color:'#fff'},{offset:0.6,color:'#f00'},{offset:0.645,color:'#f00'},{offset:0.645,color:'#fff'},{offset:0.7,color:'#fff'},{offset:0.7,color:'#f00'},{offset:0.745,color:'#f00'},{offset:0.745,color:'#fff'},{offset:0.8,color:'#fff'},{offset:0.8,color:'#f00'},{offset:0.845,color:'#f00'},{offset:0.845,color:'#fff'},{offset:0.9,color:'#fff'},{offset:0.9,color:'#f00'},{offset:0.945,color:'#f00'},{offset:0.945,color:'#fff'},{offset:1,color:'#fff'}]}"},"#000000"]},
         "legend": null},
        "order": {"field": "ord", "type": "quantitative"}
       }},
      {"transform": [{"filter": "datum.series === 'USA' && datum.quarter === '2005 Q2'"}],
       "mark": {"type": "rule", "color": "black", "strokeWidth": 1.3},
       "encoding": {"y": {"datum": 0, "type": "quantitative", "scale": {"domain": [-15, 15], "nice": false, "zero": false}}}},
      {"transform": [{"filter": "datum.series === 'Change in stayover arrivals'"}],
       "mark": {"type": "line", "color": "black", "strokeWidth": 3.3},
       "encoding": {
        "x": {"field": "quarter", "type": "ordinal", "title": null, "scale": {"type": "band", "domain": ["2005 Q2","2005 Q3","2005 Q4","2006 Q1","2006 Q2","2006 Q3","2006 Q4","2007 Q1","2007 Q2"], "paddingInner": 0.2, "paddingOuter": 0.1}},
        "y": {"field": "value", "type": "quantitative", "title": null, "scale": {"domain": [-15, 15], "nice": false, "zero": false}}}},
      {"transform": [{"filter": "datum.series === 'USA' && datum.quarter === '2005 Q2'"}],
       "mark": {"type": "text", "align": "left", "baseline": "alphabetic", "font": "Liberation Sans", "fontSize": 23, "color": "black", "dx": 17},
       "encoding": {
        "x": {"datum": "2005 Q3", "type": "ordinal", "scale": {"type": "band", "domain": ["2005 Q2","2005 Q3","2005 Q4","2006 Q1","2006 Q2","2006 Q3","2006 Q4","2007 Q1","2007 Q2"], "paddingInner": 0.2, "paddingOuter": 0.1}},
        "y": {"datum": 11.53, "type": "quantitative", "scale": {"domain": [-15, 15], "nice": false, "zero": false}},
        "text": {"field": "country", "type": "nominal"}}}
     ]},
    {"width": 441, "height": 294,
     "transform": [{"filter": "datum.country === 'St. Vincent and the Grenadines'"}],
     "layer": [
      {"transform": [{"filter": "datum.series !== 'Change in stayover arrivals' && datum.value !== 0"}],
       "mark": {"type": "bar", "stroke": "#111", "strokeWidth": 0.9},
       "encoding": {
        "x": {"field": "quarter", "type": "ordinal", "title": null, "scale": {"type": "band", "domain": ["2005 Q2","2005 Q3","2005 Q4","2006 Q1","2006 Q2","2006 Q3","2006 Q4","2007 Q1","2007 Q2"], "paddingInner": 0.2, "paddingOuter": 0.1},
         "axis": {"labelExpr": "indexof(['2005 Q2','2005 Q4','2006 Q2','2006 Q4','2007 Q2'], datum.value) >= 0 ? split(datum.value, ' ') : ''", "labelAngle": 0, "labelPadding": 15, "labelLineHeight": 25, "tickBand": "extent", "tickSize": 6, "labelOverlap": false, "labelBound": false}},
        "y": {"field": "value", "type": "quantitative", "stack": "zero", "title": null, "scale": {"domain": [-20, 25], "nice": false, "zero": false},
         "axis": {"values": [-20,-15,-10,-5,0,5,10,15,20,25], "tickSize": 5, "labelPadding": 5, "labelOverlap": false, "labelExpr": "'' + datum.value"}},
        "color": {"field": "series", "type": "nominal",
         "scale": {"domain": ["USA","Canada","United Kingdom","Caribbean","Other countries","Change in stayover arrivals"], "range": ["#99CC00","#FFFFFF","#FFFF00","#FF0000",{"expr": "{gradient:'linear',x1:0,y1:0,x2:1,y2:1,stops:[{offset:0,color:'#f00'},{offset:0.045,color:'#f00'},{offset:0.045,color:'#fff'},{offset:0.1,color:'#fff'},{offset:0.1,color:'#f00'},{offset:0.145,color:'#f00'},{offset:0.145,color:'#fff'},{offset:0.2,color:'#fff'},{offset:0.2,color:'#f00'},{offset:0.245,color:'#f00'},{offset:0.245,color:'#fff'},{offset:0.3,color:'#fff'},{offset:0.3,color:'#f00'},{offset:0.345,color:'#f00'},{offset:0.345,color:'#fff'},{offset:0.4,color:'#fff'},{offset:0.4,color:'#f00'},{offset:0.445,color:'#f00'},{offset:0.445,color:'#fff'},{offset:0.5,color:'#fff'},{offset:0.5,color:'#f00'},{offset:0.545,color:'#f00'},{offset:0.545,color:'#fff'},{offset:0.6,color:'#fff'},{offset:0.6,color:'#f00'},{offset:0.645,color:'#f00'},{offset:0.645,color:'#fff'},{offset:0.7,color:'#fff'},{offset:0.7,color:'#f00'},{offset:0.745,color:'#f00'},{offset:0.745,color:'#fff'},{offset:0.8,color:'#fff'},{offset:0.8,color:'#f00'},{offset:0.845,color:'#f00'},{offset:0.845,color:'#fff'},{offset:0.9,color:'#fff'},{offset:0.9,color:'#f00'},{offset:0.945,color:'#f00'},{offset:0.945,color:'#fff'},{offset:1,color:'#fff'}]}"},"#000000"]},
         "legend": null},
        "order": {"field": "ord", "type": "quantitative"}
       }},
      {"transform": [{"filter": "datum.series === 'USA' && datum.quarter === '2005 Q2'"}],
       "mark": {"type": "rule", "color": "black", "strokeWidth": 1.3},
       "encoding": {"y": {"datum": 0, "type": "quantitative", "scale": {"domain": [-20, 25], "nice": false, "zero": false}}}},
      {"transform": [{"filter": "datum.series === 'Change in stayover arrivals'"}],
       "mark": {"type": "line", "color": "black", "strokeWidth": 3.3},
       "encoding": {
        "x": {"field": "quarter", "type": "ordinal", "title": null, "scale": {"type": "band", "domain": ["2005 Q2","2005 Q3","2005 Q4","2006 Q1","2006 Q2","2006 Q3","2006 Q4","2007 Q1","2007 Q2"], "paddingInner": 0.2, "paddingOuter": 0.1}},
        "y": {"field": "value", "type": "quantitative", "title": null, "scale": {"domain": [-20, 25], "nice": false, "zero": false}}}},
      {"transform": [{"filter": "datum.series === 'USA' && datum.quarter === '2005 Q2'"}],
       "mark": {"type": "text", "align": "left", "baseline": "alphabetic", "font": "Liberation Sans", "fontSize": 23, "color": "black", "dx": 1.5},
       "encoding": {
        "x": {"datum": "2005 Q2", "type": "ordinal", "scale": {"type": "band", "domain": ["2005 Q2","2005 Q3","2005 Q4","2006 Q1","2006 Q2","2006 Q3","2006 Q4","2007 Q1","2007 Q2"], "paddingInner": 0.2, "paddingOuter": 0.1}},
        "y": {"datum": 21.0, "type": "quantitative", "scale": {"domain": [-20, 25], "nice": false, "zero": false}},
        "text": {"field": "country", "type": "nominal"}}}
     ]}
   ]}
  ]}
 ],
 "config": {
  "font": "Liberation Sans",
  "view": {"stroke": "#222", "strokeWidth": 1.5},
  "axis": {"labelFont": "Liberation Sans", "labelFontSize": 22.5, "labelColor": "#000", "tickColor": "#000", "domainColor": "#000", "domainWidth": 2, "tickWidth": 1.5, "grid": false},
  "axisY": {"labelOverlap": false}
 }
}
